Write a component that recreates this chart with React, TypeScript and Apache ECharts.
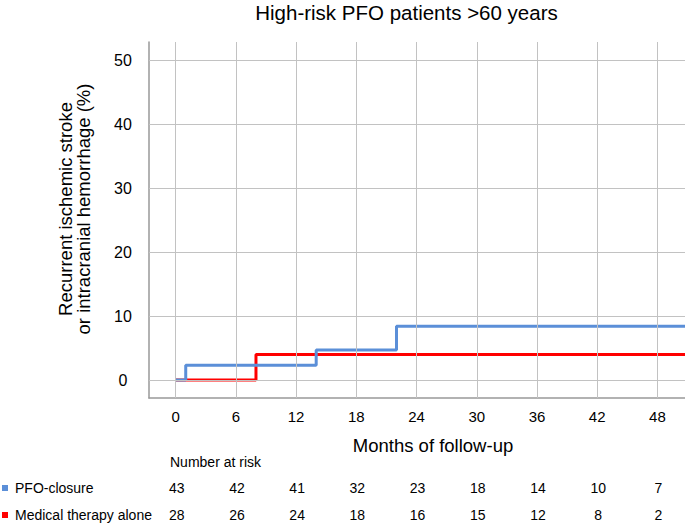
import React, { useEffect, useRef } from "react";
import * as echarts from "echarts";

const titleText = "High-risk PFO patients >60 years";
const yNameLines = ["Recurrent ischemic stroke", "or intracranial hemorrhage (%)"];
const xName = "Months of follow-up";
const months = [0, 6, 12, 18, 24, 30, 36, 42, 48];
const yTicks = [0, 10, 20, 30, 40, 50];
const seriesNames = ["PFO-closure", "Medical therapy alone"];
const pfoSteps = [[0, 0], [1, 2.3], [14, 4.7], [22, 8.4], [52, 8.4]];
const medSteps = [[0, 0], [8, 4.0], [52, 4.0]];
const pfoAtRisk = [43, 42, 41, 32, 23, 18, 14, 10, 7];
const medAtRisk = [28, 26, 24, 18, 16, 15, 12, 8, 2];
const colors = ["#5B8FD8", "#FF0000"];

const FONT = "'Liberation Sans', Arial, Helvetica, sans-serif";

export default function App() {
  const ref = useRef<HTMLDivElement>(null);
  useEffect(() => {
    if (!ref.current) return;
    const chart = echarts.init(ref.current, undefined, { renderer: "svg" });
    const option: any = {
      animation: false,
      textStyle: { fontFamily: FONT },
      grid: { left: 149, right: 0, top: 42, bottom: 126, containLabel: false },
      xAxis: {
        type: "value",
        min: -2.66,
        max: 50.75,
        axisLine: { show: true, onZero: false, lineStyle: { color: "#999", width: 1.5 } },
        axisTick: { show: false },
        splitLine: { show: false },
        axisLabel: {
          customValues: months,
          fontSize: 15,
          color: "#000",
          margin: 11,
          fontFamily: FONT,
        },
      },
      yAxis: {
        type: "value",
        min: -2.81,
        max: 52.86,
        axisLine: { show: true, onZero: false, lineStyle: { color: "#999", width: 1.5 } },
        axisTick: { show: false },
        splitLine: { show: false },
        axisLabel: {
          customValues: yTicks,
          fontSize: 16,
          color: "#000",
          margin: 26,
          align: "center",
          verticalAlign: "middle",
          padding: [10, 0, 0, 0],
          fontFamily: FONT,
        },
      },
      series: [
        {
          type: "line",
          name: "grid",
          data: [[0, 0]],
          showSymbol: false,
          lineStyle: { width: 0 },
          silent: true,
          z: 1,
          markLine: {
            silent: true,
            symbol: ["none", "none"],
            label: { show: false },
            lineStyle: { color: "#c2c2c2", width: 1, type: "solid", opacity: 1 },
            emphasis: { disabled: true },
            data: [
              ...months.map((v) => ({ xAxis: v })),
              ...yTicks.map((v) => ({ yAxis: v })),
            ],
          },
        },
        {
          type: "line",
          name: seriesNames[1],
          data: medSteps,
          step: "end",
          showSymbol: false,
          lineStyle: { color: colors[1], width: 3 },
          itemStyle: { color: colors[1] },
          emphasis: { disabled: true },
          z: 3,
        },
        {
          type: "line",
          name: seriesNames[0],
          data: pfoSteps,
          step: "end",
          showSymbol: false,
          lineStyle: { color: colors[0], width: 3 },
          itemStyle: { color: colors[0] },
          emphasis: { disabled: true },
          z: 4,
        },
      ],
    };
    chart.setOption(option);

    const xs = months.map((m) => chart.convertToPixel({ xAxisIndex: 0 }, m) as number);
    const graphics: any[] = [
      {
        type: "text",
        x: 406.5,
        y: 12,
        style: { text: titleText, fontSize: 20.5, fontFamily: FONT, fill: "#000", textAlign: "center", textVerticalAlign: "middle" },
      },
      {
        type: "text",
        x: 433,
        y: 445,
        style: { text: xName, fontSize: 18.5, fontFamily: FONT, fill: "#000", textAlign: "center", textVerticalAlign: "middle" },
      },
      {
        type: "text",
        x: 65,
        y: 209,
        rotation: Math.PI / 2,
        style: { text: yNameLines[0], fontSize: 18.5, fontFamily: FONT, fill: "#000", textAlign: "center", textVerticalAlign: "middle" },
      },
      {
        type: "text",
        x: 83.5,
        y: 209,
        rotation: Math.PI / 2,
        style: { text: yNameLines[1], fontSize: 18.5, fontFamily: FONT, fill: "#000", textAlign: "center", textVerticalAlign: "middle" },
      },
      {
        type: "text",
        x: 170,
        y: 462,
        style: { text: "Number at risk", fontSize: 14, fontFamily: FONT, fill: "#000", textAlign: "left", textVerticalAlign: "middle" },
      },
    ];
    const rows = [pfoAtRisk, medAtRisk];
    const rowY = [488, 515];
    rows.forEach((row, ri) => {
      graphics.push({
        type: "rect",
        shape: { x: 2, y: rowY[ri] - 3, width: 6, height: 6 },
        style: { fill: colors[ri] },
      });
      graphics.push({
        type: "text",
        x: 15,
        y: rowY[ri],
        style: { text: seriesNames[ri], fontSize: 14, fontFamily: FONT, fill: "#000", textAlign: "left", textVerticalAlign: "middle" },
      });
      row.forEach((v, i) => {
        graphics.push({
          type: "text",
          x: xs[i] + 1,
          y: rowY[ri],
          style: { text: String(v), fontSize: 14, fontFamily: FONT, fill: "#000", textAlign: "center", textVerticalAlign: "middle" },
        });
      });
    });
    chart.setOption({ graphic: graphics });

    return () => chart.dispose();
  }, []);
  return (
    <div
      ref={ref}
      style={{ position: "fixed", left: 0, top: 0, width: 685, height: 524, background: "#fff" }}
    />
  );
}
